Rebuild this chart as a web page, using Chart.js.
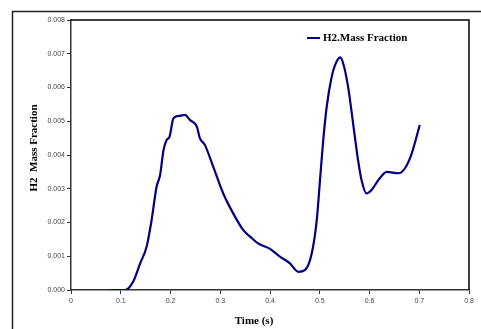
<!DOCTYPE html>
<html>
<head>
<meta charset="utf-8">
<script src="https://cdn.jsdelivr.net/npm/chart.js@4.4.1/dist/chart.umd.min.js"></script>
<style>
  html, body { margin: 0; padding: 0; background: #fff; }
  #wrap { position: relative; width: 481px; height: 329px; }
</style>
</head>
<body>
<div id="wrap"><canvas id="chart-h2" width="481" height="329"></canvas></div>
<script>
// ===== DADOS =====
const timeValues = [
    0.078, 0.109, 0.125, 0.139, 0.152, 0.162, 0.172, 0.179, 0.186, 0.192,
    0.198, 0.206, 0.219, 0.229, 0.239, 0.253, 0.259, 0.269, 0.286, 0.306,
    0.326, 0.346, 0.360, 0.376, 0.400, 0.420, 0.440, 0.457, 0.470, 0.484,
    0.494, 0.500, 0.507, 0.514, 0.524, 0.531, 0.541, 0.547, 0.557, 0.567,
    0.577, 0.584, 0.594, 0.604, 0.618, 0.635, 0.658, 0.671, 0.685, 0.701
];
const h2Values = [
    0.00000, 0.00000, 0.00025, 0.00079, 0.00128, 0.00207, 0.00306, 0.00340, 0.00415, 0.00444,
    0.00454, 0.00509, 0.00516, 0.00519, 0.00504, 0.00484, 0.00450, 0.00430, 0.00365, 0.00286,
    0.00227, 0.00178, 0.00158, 0.00138, 0.00122, 0.00099, 0.00079, 0.00054, 0.00059, 0.00109,
    0.00207, 0.00316, 0.00444, 0.00543, 0.00632, 0.00667, 0.00689, 0.00672, 0.00602, 0.00494,
    0.00385, 0.00326, 0.00286, 0.00296, 0.00326, 0.00350, 0.00346, 0.00360, 0.00405, 0.00489
];
const xTickLabels = ['0', '0.1', '0.2', '0.3', '0.4', '0.5', '0.6', '0.7', '0.8'];
const yTickLabels = ['0.000', '0.001', '0.002', '0.003', '0.004', '0.005', '0.006', '0.007', '0.008'];
const seriesLabel = 'H2.Mass Fraction';
const xTitle = 'Time (s)';
const yTitle = 'H2  Mass Fraction';

const lineColor = '#000080';
const serif = '"Liberation Serif", "Times New Roman", serif';
const sans = '"Liberation Sans", Arial, sans-serif';

// ===== MOLDURA, LEGENDA E TÍTULOS DOS EIXOS =====
const decorPlugin = {
    id: 'decor',
    beforeDraw(chart) {
        const ctx = chart.ctx;
        ctx.save();
        ctx.fillStyle = '#fff';
        ctx.fillRect(0, 0, chart.width, chart.height);
        ctx.strokeStyle = '#222';
        ctx.lineWidth = 1.5;
        ctx.beginPath();
        ctx.moveTo(12.5, chart.height);
        ctx.lineTo(12.5, 11.5);
        ctx.lineTo(chart.width, 11.5);
        ctx.stroke();
        ctx.restore();
    },
    afterDraw(chart) {
        const ctx = chart.ctx;
        const a = chart.chartArea;
        ctx.save();
        // borda superior e direita da área do gráfico
        ctx.strokeStyle = '#000';
        ctx.lineWidth = 1.5;
        ctx.beginPath();
        ctx.moveTo(a.left, a.top);
        ctx.lineTo(a.right, a.top);
        ctx.lineTo(a.right, a.bottom);
        ctx.stroke();

        // legenda
        const ds = chart.data.datasets[0];
        ctx.strokeStyle = ds.borderColor;
        ctx.lineWidth = 2;
        ctx.beginPath();
        ctx.moveTo(307, 38);
        ctx.lineTo(320, 38);
        ctx.stroke();
        ctx.fillStyle = '#000';
        ctx.font = 'bold 11px ' + serif;
        ctx.textBaseline = 'middle';
        ctx.textAlign = 'left';
        ctx.fillText(ds.label, 323, 38.5);

        // títulos dos eixos
        ctx.textAlign = 'center';
        ctx.fillText(xTitle, 254, 321);
        ctx.translate(34, 148);
        ctx.rotate(-Math.PI / 2);
        ctx.fillText(yTitle, 0, 0);
        ctx.restore();
    }
};

new Chart(document.getElementById('chart-h2'), {
    type: 'line',
    data: {
        datasets: [{
            label: seriesLabel,
            data: timeValues.map((t, i) => ({ x: t, y: h2Values[i] })),
            borderColor: lineColor,
            backgroundColor: lineColor,
            borderWidth: 2.2,
            pointRadius: 0,
            cubicInterpolationMode: 'monotone',
            fill: false,
        }]
    },
    options: {
        responsive: false,
        animation: false,
        layout: { padding: { left: 0, top: 20, right: 12, bottom: 0 } },
        plugins: {
            legend: { display: false },
            tooltip: { enabled: false }
        },
        scales: {
            x: {
                type: 'linear',
                min: 0,
                max: 0.8,
                afterFit: s => { s.height = 39; },
                afterBuildTicks: s => {
                    s.ticks = xTickLabels.map(v => ({ value: parseFloat(v) }));
                },
                ticks: {
                    autoSkip: false,
                    maxRotation: 0,
                    padding: 3,
                    color: '#444',
                    font: { family: sans, size: 7 },
                    callback: (v, i) => xTickLabels[i]
                },
                grid: { drawOnChartArea: false, drawTicks: true, tickLength: 4, color: '#333' },
                border: { display: true, color: '#333', width: 1.5 }
            },
            y: {
                type: 'linear',
                min: 0,
                max: 0.008,
                afterFit: s => { s.width = 71; },
                afterBuildTicks: s => {
                    s.ticks = yTickLabels.map(v => ({ value: parseFloat(v) }));
                },
                ticks: {
                    autoSkip: false,
                    padding: 2,
                    color: '#444',
                    font: { family: sans, size: 7 },
                    callback: (v, i) => yTickLabels[i]
                },
                grid: { drawOnChartArea: false, drawTicks: true, tickLength: 4, color: '#333' },
                border: { display: true, color: '#333', width: 1.5 }
            }
        }
    },
    plugins: [decorPlugin]
});
</script>
</body>
</html>
